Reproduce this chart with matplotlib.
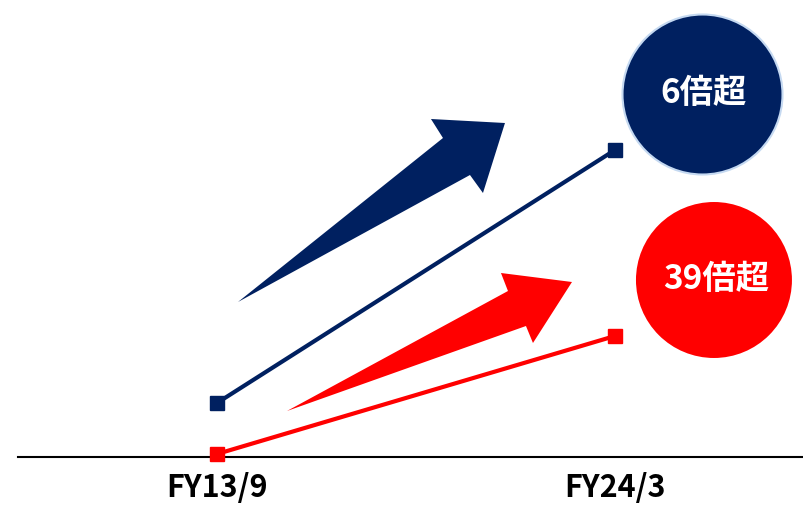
import matplotlib.pyplot as plt
from matplotlib.patches import Polygon

plt.rcParams['font.family'] = ['Noto Sans CJK JP', 'DejaVu Sans']

# データ（縦軸は目盛なしの相対値）
categories = ["FY13/9", "FY24/3"]
navy_values = [54, 307]
red_values = [3, 121]
navy_label = "6倍超"
red_label = "39倍超"

NAVY = "#002060"
RED = "#FF0000"

W, H = 804, 505
fig = plt.figure(figsize=(W / 100, H / 100), dpi=100)
ax = fig.add_axes([18 / W, 48 / H, 786 / W, 457 / H])
x = list(range(len(categories)))
ax.set_xlim(-0.5, 1.475)
ax.set_ylim(0, 457)


def px(xp, yp):
    # 画像のピクセル位置 -> データ座標（装飾用）
    return ((xp - 217) / 398, 457 - yp)


# 装飾の矢印
navy_arrow = [(238, 302), (443, 138), (431, 119), (505, 123), (483, 193), (470, 175)]
red_arrow = [(287, 411), (508, 291), (501, 273), (572, 282), (533, 343), (526, 326)]
for pts, c in [(navy_arrow, NAVY), (red_arrow, RED)]:
    ax.add_patch(Polygon([px(*p) for p in pts], closed=True, facecolor=c,
                         edgecolor='none', zorder=2))

# 折れ線
ax.plot(x, navy_values, color=NAVY, lw=3, marker='s', ms=9.5, clip_on=False, zorder=3)
ax.plot(x, red_values, color=RED, lw=3, marker='s', ms=9.5, clip_on=False, zorder=3)

# 丸ラベル
cx, cy = px(702, 94)
ax.scatter([cx], [cy], s=13271, color=NAVY, edgecolor="#C5D9F1", linewidth=1.5,
           clip_on=False, zorder=4)
ax.text(cx + 0.005, cy, navy_label, color='white', fontsize=24, fontweight='bold',
        ha='center', va='center', zorder=5)
cx, cy = px(714, 280)
ax.scatter([cx], [cy], s=12612, color=RED, edgecolor='none', clip_on=False, zorder=4)
ax.text(cx + 0.005, cy, red_label, color='white', fontsize=24, fontweight='bold',
        ha='center', va='center', zorder=5)

for s in ['top', 'right', 'left']:
    ax.spines[s].set_visible(False)
ax.spines['bottom'].set_linewidth(1.5)
ax.set_yticks([])
ax.set_xticks(x)
ax.set_xticklabels(categories, fontsize=22, fontweight='bold')
ax.tick_params(axis='x', length=0, pad=11)

fig.savefig("out.png", dpi=100)
